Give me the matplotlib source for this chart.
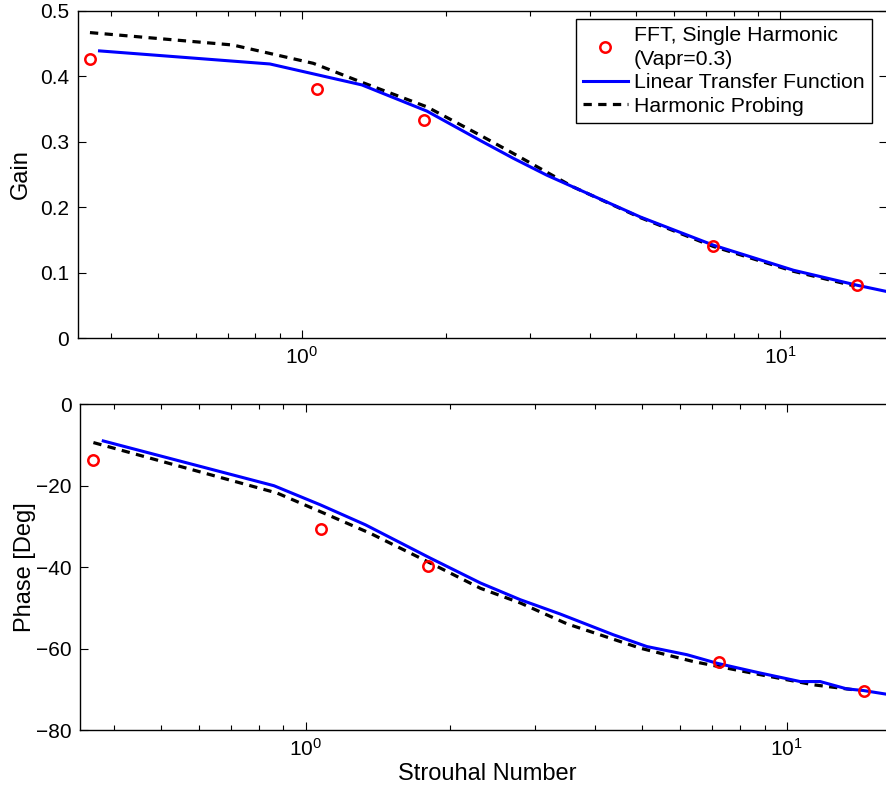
import numpy as np
import matplotlib
matplotlib.use("Agg")
import matplotlib.pyplot as plt

plt.rcParams['font.family'] = ['Liberation Sans', 'DejaVu Sans']
plt.rcParams['mathtext.fontset'] = 'custom'
plt.rcParams['mathtext.rm'] = 'Liberation Sans'
plt.rcParams['font.size'] = 15

# FFT measurements (single harmonic, Vapr=0.3)
st_fft = [0.361, 1.078, 1.80, 7.22, 14.44]
gain_fft = [0.427, 0.381, 0.334, 0.140, 0.0807]
phase_fft = [-13.7, -30.6, -39.7, -63.4, -70.3]

# linear transfer function
st_ltf = [0.378, 0.858, 1.335, 1.825, 2.36, 2.77, 3.25, 3.82, 5.10, 7.24, 10.65, 14.46, 16.7]
gain_ltf = [0.439, 0.419, 0.387, 0.347, 0.302, 0.2746, 0.249, 0.226, 0.185, 0.142, 0.1036, 0.0807, 0.071]
st_ltf_ph = [0.380, 0.860, 1.074, 1.332, 1.818, 2.31, 2.795, 3.38, 4.36, 5.12, 6.20, 7.16, 8.80,
             10.66, 11.73, 13.32, 14.42, 16.7]
phase_ltf = [-9.0, -20.0, -24.7, -29.6, -37.8, -43.9, -48.0, -51.5, -56.6, -59.5, -61.5, -63.6,
             -66.0, -68.1, -68.1, -69.9, -70.3, -71.5]

# harmonic probing
st_hp = [0.361, 0.718, 1.057, 1.324, 1.825, 2.36, 2.77, 3.69, 5.10, 7.24, 10.65, 14.3]
gain_hp = [0.467, 0.448, 0.420, 0.392, 0.3535, 0.310, 0.282, 0.231, 0.184, 0.140, 0.102, 0.0795]
st_hp_ph = [0.3625, 0.873, 1.066, 1.364, 1.818, 2.31, 2.795, 3.49, 4.96, 6.40, 8.80, 11.36, 13.75]
phase_hp = [-9.4, -21.8, -26.2, -31.7, -39.0, -45.2, -48.8, -53.9, -59.9, -63.2, -66.4, -68.9, -70.1]

W, H = 886, 796
fig = plt.figure(figsize=(W / 100, H / 100), dpi=100)
ax1 = fig.add_axes([77.5 / W, 1 - 338 / H, (887 - 77.5) / W, (338 - 11) / H])
ax2 = fig.add_axes([80 / W, 1 - 730 / H, (894 - 80) / W, (730 - 404.3) / H])

dash = (0, (2.6, 2.0))
for ax, yf, xl, yl, xh, yh in [(ax1, gain_fft, st_ltf, gain_ltf, st_hp, gain_hp),
                               (ax2, phase_fft, st_ltf_ph, phase_ltf, st_hp_ph, phase_hp)]:
    ax.plot(st_fft, yf, 'o', mfc='none', mec='red', mew=1.8, ms=7.5,
            label='FFT, Single Harmonic\n(Vapr=0.3)', zorder=4)
    ax.plot(xl, yl, '-', color='blue', lw=2.2, label='Linear Transfer Function', zorder=3)
    ax.plot(xh, yh, color='black', lw=2.3, linestyle=dash, label='Harmonic Probing', zorder=2)
    ax.set_xscale('log')
    ax.set_xlim(0.34, 16.7)
    ax.tick_params(which='both', direction='in', top=True, right=True, width=0.8, labelsize=15)
    ax.tick_params(which='major', length=6, pad=6)
    ax.tick_params(which='minor', length=3.5)
    for s in ax.spines.values():
        s.set_linewidth(1.0)

ax1.set_ylim(0, 0.5)
ax1.set_yticks([0, 0.1, 0.2, 0.3, 0.4, 0.5])
ax1.set_yticklabels(['0', '0.1', '0.2', '0.3', '0.4', '0.5'])
ax1.set_ylabel('Gain', fontsize=17, labelpad=6)

ax2.set_ylim(-80, 0)
ax2.set_yticks([-80, -60, -40, -20, 0])
ax2.set_ylabel('Phase [Deg]', fontsize=17, labelpad=0)
ax2.set_xlabel('Strouhal Number', fontsize=17, labelpad=2)

leg = ax1.legend(loc='upper right', bbox_to_anchor=(871.7 / W, 1 - 19 / H),
                 bbox_transform=fig.transFigure, borderaxespad=0, fancybox=False,
                 framealpha=1, edgecolor='black', handlelength=2.1, handletextpad=0.3,
                 labelspacing=0.22, borderpad=0.33, fontsize=15.3)
for t in leg.get_texts():
    t.set_linespacing(1.3)
leg.get_frame().set_linewidth(1.0)

fig.savefig('out.png', dpi=100)
